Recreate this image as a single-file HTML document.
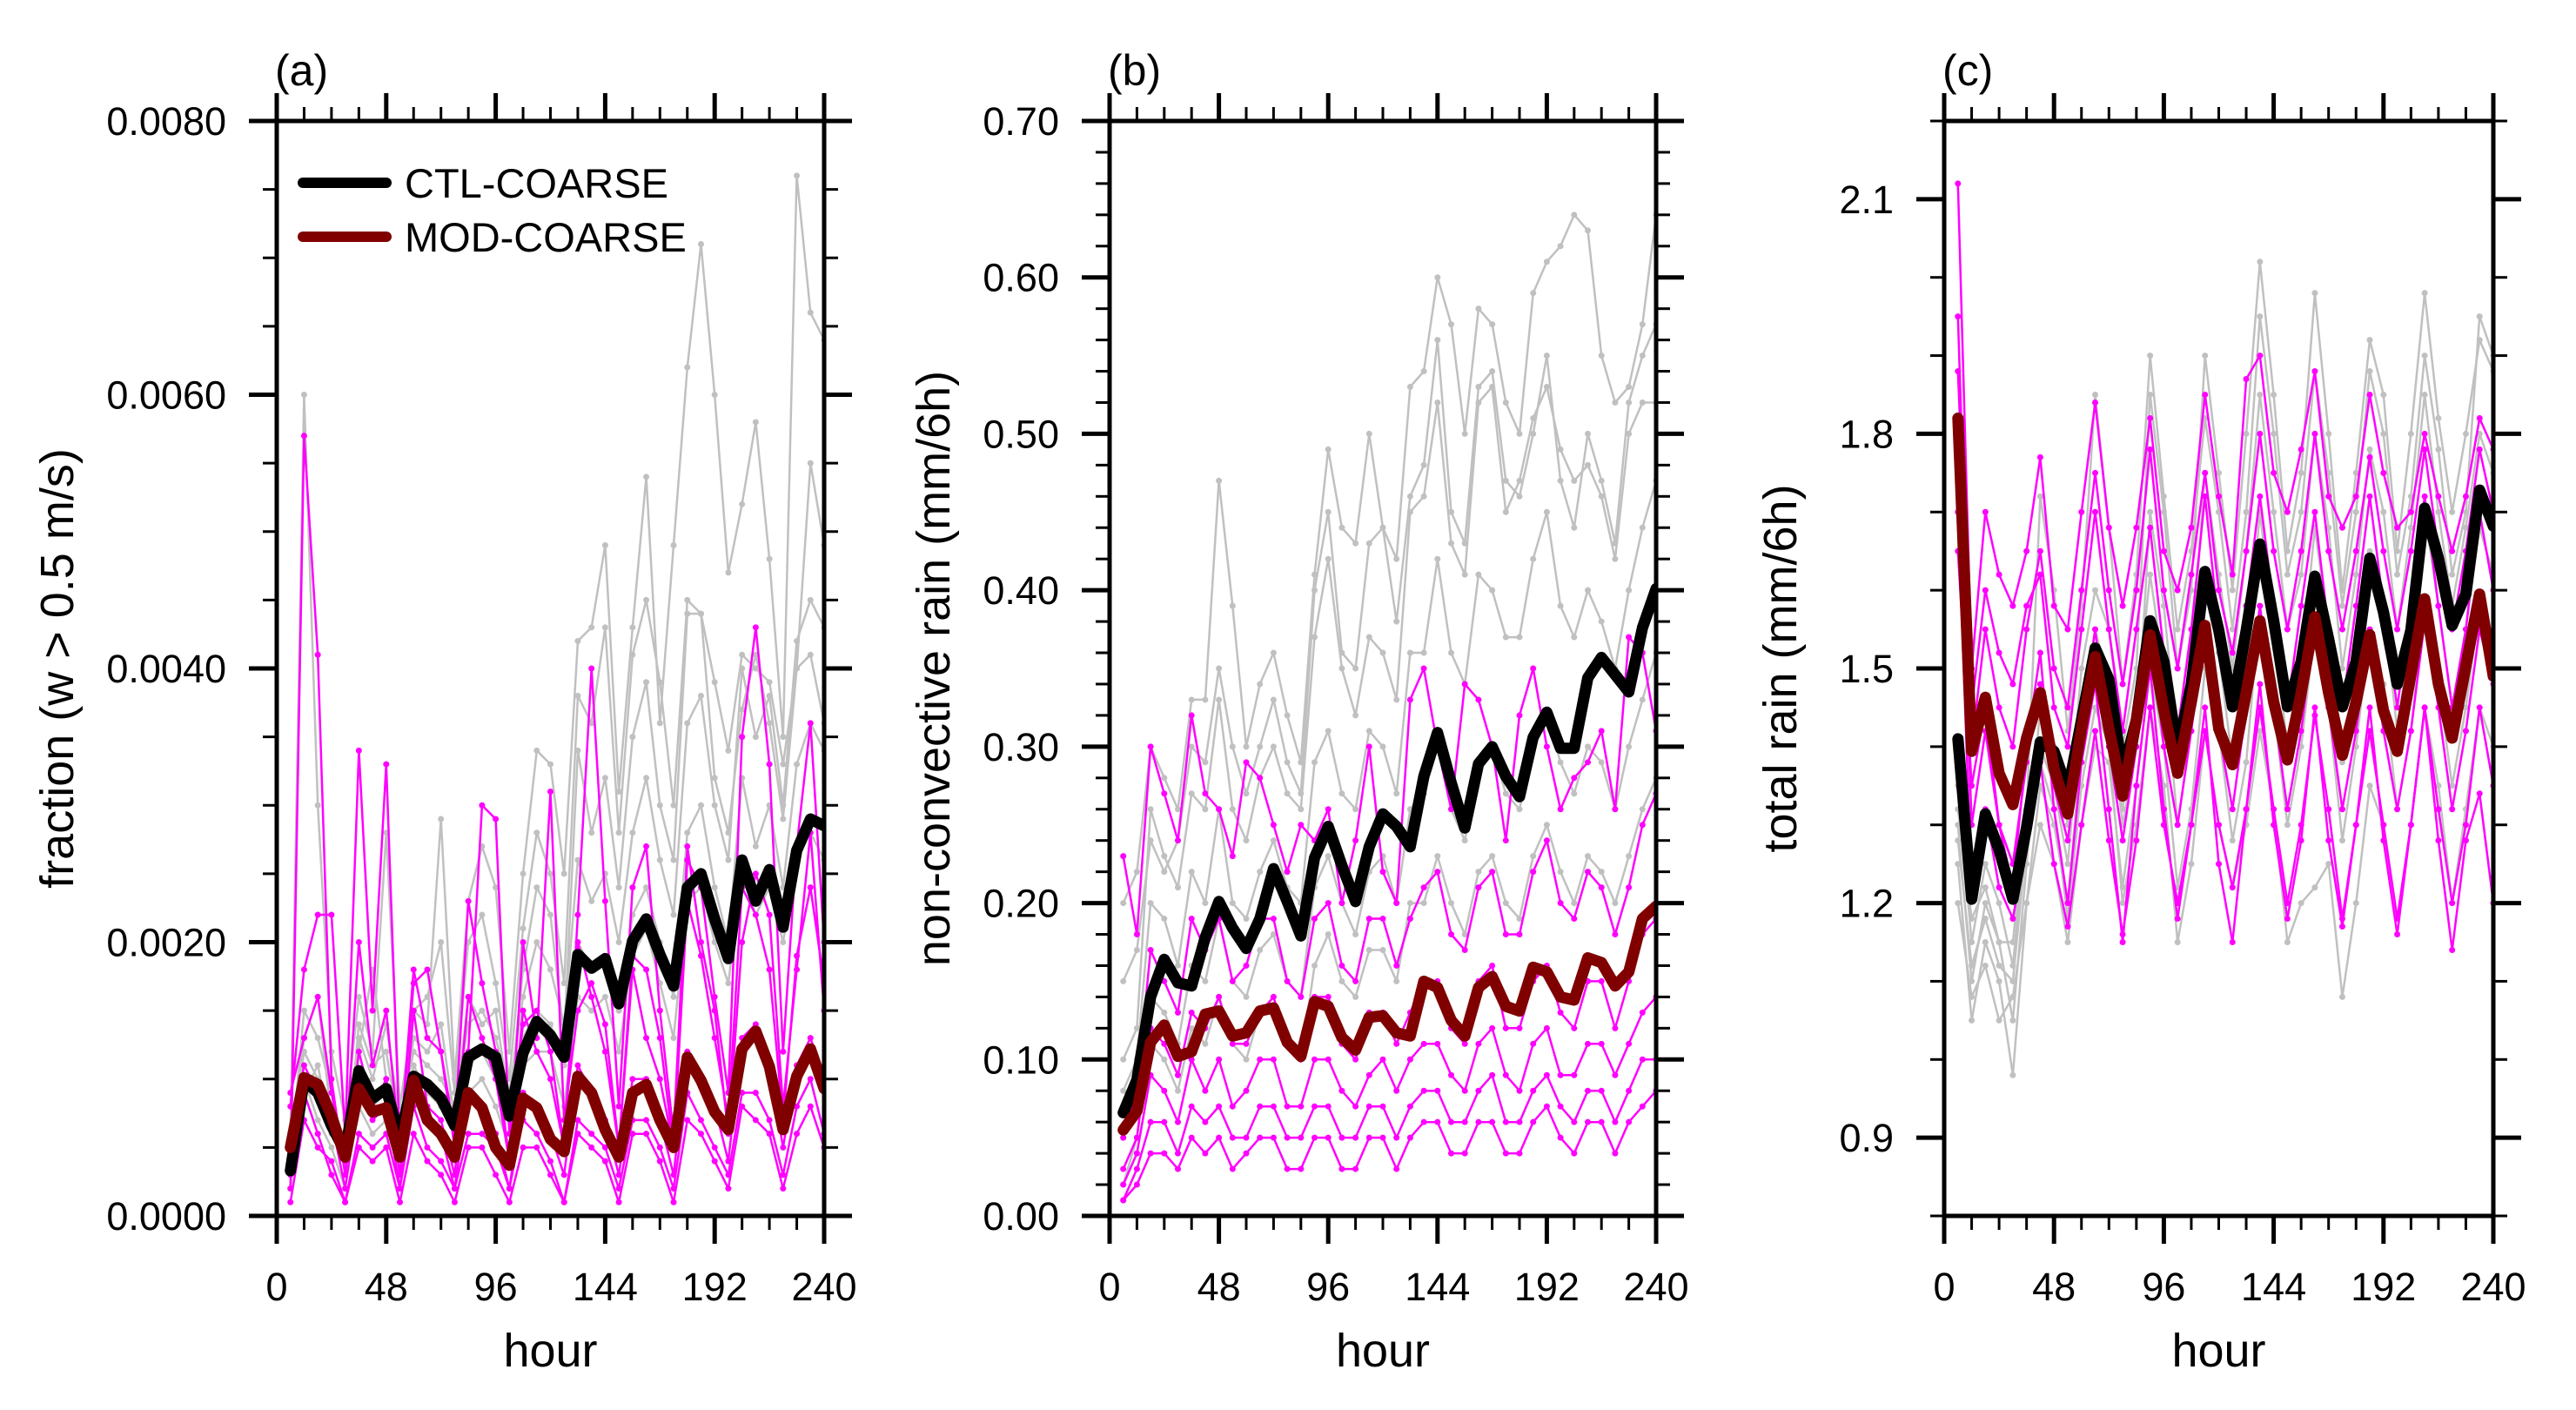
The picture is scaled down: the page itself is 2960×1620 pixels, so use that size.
<!DOCTYPE html>
<html><head><meta charset="utf-8"><style>
html,body{margin:0;padding:0;background:#fff;}
svg{display:block;font-family:"Liberation Sans",Arial,sans-serif;}
</style></head><body>
<svg id="chart" width="2960" height="1620" viewBox="0 0 2960 1620" xmlns="http://www.w3.org/2000/svg"></svg>
<script>
// ---------- shared data ----------
const hours = [6,12,18,24,30,36,42,48,54,60,66,72,78,84,90,96,102,108,114,120,126,132,138,144,150,156,162,168,174,180,186,192,198,204,210,216,222,228,234,240];
const xTickLabels = ["0","48","96","144","192","240"];

// ---------- panel (a): fraction (values in units of 0.001) ----------
const aYTicks = [0,2,4,6,8];
const aYTickLabels = ["0.0000","0.0020","0.0040","0.0060","0.0080"];
const aCtl = [0.33,0.99,0.90,0.66,0.47,1.06,0.86,0.93,0.56,1.02,0.96,0.86,0.66,1.16,1.22,1.16,0.73,1.19,1.42,1.32,1.16,1.91,1.81,1.88,1.55,2.01,2.17,1.91,1.68,2.40,2.50,2.17,1.88,2.60,2.30,2.53,2.11,2.67,2.90,2.85];
const aMod = [0.50,1.01,0.96,0.73,0.43,0.93,0.76,0.79,0.43,0.99,0.70,0.60,0.43,0.90,0.79,0.50,0.37,0.86,0.79,0.56,0.47,1.02,0.90,0.63,0.43,0.90,0.96,0.70,0.50,1.16,0.99,0.76,0.63,1.22,1.35,1.09,0.63,1.02,1.22,0.93];
const aGray1 = [0.5,1.2,1.0,0.8,0.5,1.3,1.0,1.4,0.7,1.2,1.1,1.0,0.8,1.4,1.5,1.3,0.9,1.6,2.0,1.8,1.4,2.6,2.3,2.5,2.0,2.8,3.2,2.6,2.2,3.6,3.8,3.0,2.6,4.0,3.5,3.8,3.0,4.2,4.5,4.3];
const aGray2 = [0.3,0.9,1.1,0.6,0.4,1.0,0.8,0.9,0.5,1.1,0.9,0.8,0.6,1.1,1.2,1.0,0.7,1.3,1.5,1.4,1.1,2.0,1.8,1.9,1.5,2.2,2.4,2.0,1.6,2.8,3.0,2.4,2.0,3.2,2.7,3.0,2.4,3.3,3.6,3.4];
const aGray3 = [0.6,6.0,3.0,1.2,0.7,1.6,1.2,2.8,0.8,1.5,1.4,2.9,1.0,2.3,2.7,2.4,1.2,2.5,3.4,3.3,2.5,4.2,4.3,4.9,3.1,4.3,5.4,3.6,4.9,6.2,7.1,6.0,4.7,5.2,5.8,4.8,3.5,7.6,6.6,6.4];
const aGray4 = [0.4,1.5,1.3,0.9,0.3,1.4,1.1,1.2,0.6,1.5,1.6,2.0,0.9,2.0,2.2,1.7,1.0,2.1,2.8,2.5,1.7,3.8,3.6,4.3,2.8,4.1,4.5,3.9,3.0,4.5,4.4,3.9,3.4,4.1,4.0,3.9,3.3,4.0,4.1,3.6];
const aGray5 = [0.2,1.0,0.7,0.5,0.2,0.8,0.6,0.7,0.3,0.9,0.7,0.6,0.4,0.9,1.0,0.8,0.5,1.1,1.2,1.2,0.8,1.6,1.5,1.6,1.2,1.9,2.1,1.7,1.3,2.3,2.4,2.0,1.7,2.5,2.2,2.4,2.0,2.6,2.8,2.6];
const aGray6 = [0.4,1.3,1.6,0.7,0.5,1.2,1.8,1.0,0.6,1.3,1.2,1.4,0.7,1.6,1.4,1.5,0.8,1.8,2.4,2.2,1.3,3.4,2.8,3.2,2.4,3.5,3.9,3.0,2.6,4.4,4.4,3.2,2.8,3.7,4.1,3.6,2.9,4.0,5.5,4.9];
const aMag1 = [0.2,5.7,4.1,1.0,0.3,1.2,0.8,1.0,0.3,1.5,0.8,0.7,0.3,1.2,3.0,2.9,0.6,1.4,1.5,1.2,0.5,2.2,4.0,2.3,0.8,2.4,2.7,1.5,0.6,2.6,2.4,1.6,0.9,3.5,4.3,3.3,1.2,2.7,3.6,2.0];
const aMag2 = [0.8,1.8,2.2,2.2,0.6,3.4,1.5,3.3,0.5,1.7,1.8,1.2,0.6,2.3,1.7,1.2,0.4,2.0,1.3,3.1,0.7,1.5,1.7,1.4,0.5,1.8,1.3,1.0,0.5,2.7,2.0,1.5,0.6,2.0,2.5,2.2,0.8,1.8,2.8,1.5];
const aMag3 = [0.5,1.1,0.9,0.7,0.2,0.9,0.7,0.8,0.2,1.0,0.7,0.6,0.2,0.9,0.8,0.6,0.2,0.9,0.8,0.6,0.3,1.1,0.9,0.7,0.3,1.0,1.0,0.7,0.3,1.2,1.0,0.8,0.4,1.3,1.4,1.1,0.5,1.1,1.3,1.0];
const aMag4 = [0.1,0.7,0.5,0.4,0.1,0.5,0.4,0.5,0.1,0.6,0.4,0.3,0.1,0.5,0.5,0.3,0.1,0.5,0.5,0.3,0.1,0.6,0.5,0.4,0.1,0.6,0.6,0.4,0.1,0.7,0.6,0.4,0.2,0.8,0.7,0.6,0.2,0.6,0.8,0.5];
const aMag5 = [0.9,1.3,1.6,0.9,0.4,2.0,1.1,1.5,0.5,1.8,1.3,1.2,0.5,1.6,1.3,1.0,0.4,1.5,1.2,1.0,0.5,2.0,1.6,1.2,0.5,1.9,1.8,1.3,0.5,2.3,1.9,1.3,0.7,2.4,2.2,1.8,0.7,1.9,2.4,1.7];
const aMag6 = [0.3,0.9,0.6,0.3,0.1,0.6,0.5,0.6,0.2,0.8,0.5,0.4,0.2,0.6,0.6,0.5,0.2,0.7,0.6,0.4,0.1,0.7,0.6,0.5,0.2,0.7,0.7,0.5,0.2,0.9,0.7,0.5,0.3,0.9,0.9,0.7,0.3,0.8,1.0,0.6];

// ---------- panel (b): non-convective rain ----------
const bYTicks = [0,0.1,0.2,0.3,0.4,0.5,0.6,0.7];
const bYTickLabels = ["0.00","0.10","0.20","0.30","0.40","0.50","0.60","0.70"];
const bCtl = [0.066,0.087,0.140,0.164,0.149,0.147,0.178,0.201,0.184,0.171,0.190,0.222,0.201,0.179,0.229,0.249,0.224,0.201,0.236,0.257,0.249,0.236,0.281,0.309,0.277,0.248,0.289,0.300,0.281,0.268,0.306,0.322,0.299,0.299,0.344,0.357,0.346,0.335,0.376,0.401];
const bMod = [0.055,0.067,0.111,0.122,0.102,0.105,0.129,0.131,0.115,0.117,0.131,0.133,0.111,0.102,0.137,0.134,0.114,0.106,0.127,0.128,0.117,0.115,0.150,0.146,0.125,0.115,0.146,0.153,0.134,0.131,0.159,0.156,0.140,0.138,0.165,0.162,0.147,0.156,0.190,0.198];
const bGray1 = [0.20,0.22,0.30,0.28,0.26,0.33,0.33,0.47,0.39,0.30,0.34,0.36,0.32,0.29,0.41,0.49,0.44,0.43,0.50,0.44,0.42,0.53,0.54,0.60,0.57,0.50,0.58,0.57,0.52,0.50,0.59,0.61,0.62,0.64,0.63,0.55,0.52,0.53,0.57,0.64];
const bGray2 = [0.10,0.12,0.26,0.23,0.21,0.27,0.26,0.33,0.26,0.24,0.28,0.30,0.27,0.26,0.37,0.42,0.35,0.32,0.37,0.36,0.33,0.45,0.46,0.52,0.43,0.41,0.52,0.53,0.45,0.47,0.51,0.53,0.49,0.47,0.48,0.46,0.42,0.50,0.52,0.52];
const bGray3 = [0.08,0.10,0.20,0.19,0.16,0.22,0.20,0.26,0.20,0.19,0.22,0.24,0.21,0.20,0.29,0.31,0.27,0.26,0.31,0.30,0.27,0.36,0.36,0.42,0.36,0.34,0.41,0.40,0.37,0.37,0.42,0.45,0.39,0.37,0.40,0.38,0.35,0.40,0.44,0.47];
const bGray4 = [0.05,0.07,0.14,0.13,0.11,0.16,0.15,0.19,0.15,0.14,0.17,0.18,0.15,0.14,0.21,0.23,0.20,0.18,0.22,0.23,0.20,0.26,0.27,0.30,0.26,0.24,0.29,0.30,0.27,0.26,0.30,0.32,0.29,0.27,0.30,0.29,0.26,0.30,0.33,0.36];
const bGray5 = [0.02,0.05,0.11,0.10,0.08,0.12,0.11,0.14,0.11,0.10,0.13,0.14,0.11,0.10,0.16,0.18,0.15,0.14,0.17,0.17,0.15,0.20,0.20,0.23,0.20,0.18,0.22,0.23,0.20,0.19,0.23,0.25,0.22,0.20,0.23,0.22,0.20,0.23,0.26,0.28];
const bGray6 = [0.15,0.17,0.24,0.22,0.24,0.30,0.29,0.35,0.30,0.27,0.30,0.33,0.29,0.27,0.40,0.45,0.36,0.35,0.43,0.44,0.38,0.46,0.48,0.56,0.45,0.43,0.53,0.54,0.47,0.46,0.50,0.55,0.47,0.44,0.50,0.47,0.43,0.52,0.55,0.57];
const bMag1 = [0.23,0.18,0.30,0.27,0.24,0.32,0.27,0.26,0.23,0.29,0.28,0.25,0.22,0.25,0.24,0.26,0.20,0.24,0.30,0.22,0.20,0.33,0.35,0.30,0.26,0.34,0.33,0.30,0.24,0.32,0.35,0.30,0.26,0.28,0.29,0.31,0.26,0.37,0.36,0.31];
const bMag2 = [0.05,0.08,0.17,0.15,0.13,0.19,0.17,0.19,0.15,0.16,0.19,0.19,0.15,0.14,0.19,0.20,0.16,0.15,0.19,0.19,0.16,0.19,0.21,0.22,0.18,0.17,0.21,0.22,0.18,0.18,0.22,0.24,0.20,0.19,0.22,0.21,0.18,0.21,0.25,0.27];
const bMag3 = [0.03,0.05,0.12,0.11,0.09,0.13,0.12,0.14,0.11,0.11,0.13,0.14,0.11,0.10,0.14,0.14,0.11,0.10,0.13,0.13,0.11,0.13,0.15,0.15,0.12,0.11,0.15,0.16,0.12,0.12,0.15,0.16,0.13,0.12,0.15,0.15,0.12,0.15,0.18,0.19];
const bMag4 = [0.01,0.03,0.06,0.06,0.04,0.07,0.06,0.07,0.05,0.05,0.07,0.07,0.05,0.05,0.07,0.07,0.05,0.05,0.07,0.07,0.05,0.07,0.08,0.08,0.06,0.06,0.08,0.09,0.06,0.06,0.08,0.09,0.07,0.06,0.08,0.08,0.06,0.08,0.10,0.10];
const bMag5 = [0.02,0.04,0.09,0.08,0.06,0.10,0.08,0.10,0.07,0.08,0.10,0.10,0.07,0.07,0.10,0.10,0.08,0.07,0.09,0.10,0.08,0.10,0.11,0.11,0.09,0.08,0.11,0.12,0.09,0.08,0.11,0.12,0.09,0.09,0.11,0.11,0.09,0.11,0.13,0.14];
const bMag6 = [0.01,0.02,0.04,0.04,0.03,0.05,0.04,0.05,0.03,0.04,0.05,0.05,0.03,0.03,0.05,0.05,0.03,0.03,0.05,0.05,0.03,0.05,0.06,0.06,0.04,0.04,0.06,0.06,0.04,0.04,0.06,0.07,0.05,0.04,0.06,0.06,0.04,0.06,0.07,0.08];

// ---------- panel (c): total rain ----------
const cYTicks = [0.9,1.2,1.5,1.8,2.1];
const cYTickLabels = ["0.9","1.2","1.5","1.8","2.1"];
const cCtl = [1.41,1.205,1.314,1.268,1.205,1.297,1.406,1.394,1.343,1.434,1.526,1.486,1.366,1.434,1.561,1.509,1.394,1.48,1.624,1.549,1.451,1.549,1.659,1.561,1.451,1.509,1.618,1.538,1.451,1.509,1.641,1.572,1.48,1.549,1.705,1.641,1.555,1.595,1.728,1.682];
const cMod = [1.82,1.394,1.463,1.366,1.326,1.411,1.469,1.372,1.314,1.423,1.515,1.423,1.337,1.434,1.543,1.446,1.366,1.457,1.555,1.423,1.377,1.469,1.561,1.457,1.383,1.469,1.566,1.469,1.389,1.457,1.543,1.446,1.394,1.492,1.589,1.48,1.411,1.503,1.595,1.49];
const cGray1 = [1.30,1.10,1.20,1.15,1.05,1.25,1.45,1.40,1.30,1.50,1.60,1.55,1.40,1.50,1.85,1.70,1.50,1.60,1.90,1.75,1.60,1.80,2.02,1.85,1.65,1.75,1.98,1.80,1.60,1.75,1.92,1.85,1.65,1.80,1.98,1.82,1.70,1.80,1.92,1.88];
const cGray2 = [1.25,1.05,1.15,1.10,0.98,1.20,1.35,1.30,1.20,1.40,1.50,1.45,1.30,1.40,1.70,1.58,1.40,1.50,1.75,1.62,1.50,1.65,1.85,1.70,1.55,1.62,1.80,1.68,1.50,1.62,1.78,1.70,1.55,1.68,1.85,1.70,1.58,1.68,1.80,1.75];
const cGray3 = [1.28,1.12,1.18,1.12,1.10,1.28,1.40,1.35,1.25,1.45,1.55,1.48,1.32,1.45,1.62,1.50,1.30,1.42,1.62,1.52,1.38,1.50,1.70,1.55,1.40,1.50,1.68,1.55,1.38,1.50,1.65,1.58,1.42,1.55,1.70,1.58,1.45,1.55,1.68,1.62];
const cGray4 = [1.20,1.08,1.12,1.05,1.08,1.20,1.30,1.25,1.15,1.30,1.40,1.38,1.22,1.35,1.50,1.40,1.22,1.32,1.50,1.42,1.28,1.38,1.58,1.45,1.30,1.40,1.55,1.45,1.28,1.40,1.55,1.48,1.32,1.42,1.58,1.48,1.35,1.45,1.58,1.52];
const cGray5 = [1.35,1.15,1.25,1.20,1.12,1.30,1.38,1.32,1.18,1.35,1.45,1.40,1.20,1.30,1.45,1.35,1.15,1.25,1.42,1.30,1.22,1.30,1.42,1.32,1.15,1.20,1.22,1.25,1.08,1.20,1.35,1.30,1.18,1.30,1.45,1.35,1.20,1.32,1.45,1.40];
const cGray6 = [1.32,1.18,1.22,1.15,1.15,1.32,1.72,1.60,1.42,1.58,1.85,1.68,1.48,1.62,1.90,1.72,1.55,1.65,1.82,1.70,1.55,1.70,1.95,1.80,1.62,1.70,1.88,1.75,1.58,1.70,1.88,1.80,1.62,1.72,1.90,1.78,1.62,1.70,1.95,1.90];
const cMag1 = [2.12,1.50,1.70,1.62,1.58,1.65,1.77,1.58,1.55,1.70,1.84,1.68,1.58,1.68,1.82,1.65,1.60,1.68,1.85,1.72,1.62,1.87,1.90,1.75,1.70,1.78,1.88,1.72,1.68,1.72,1.85,1.75,1.68,1.70,1.80,1.72,1.65,1.72,1.82,1.78];
const cMag2 = [1.95,1.40,1.55,1.45,1.40,1.55,1.65,1.50,1.45,1.60,1.75,1.60,1.48,1.60,1.78,1.60,1.50,1.62,1.75,1.60,1.52,1.65,1.80,1.65,1.55,1.65,1.80,1.65,1.55,1.65,1.77,1.65,1.55,1.65,1.78,1.65,1.55,1.65,1.78,1.70];
const cMag3 = [1.80,1.30,1.42,1.30,1.25,1.38,1.48,1.35,1.28,1.42,1.55,1.40,1.28,1.40,1.55,1.40,1.30,1.42,1.55,1.42,1.32,1.45,1.58,1.45,1.32,1.42,1.56,1.45,1.32,1.42,1.55,1.42,1.32,1.42,1.56,1.45,1.32,1.42,1.55,1.48];
const cMag4 = [1.70,1.22,1.32,1.22,1.18,1.28,1.38,1.25,1.17,1.30,1.42,1.28,1.16,1.28,1.45,1.30,1.20,1.30,1.42,1.30,1.22,1.32,1.45,1.32,1.20,1.30,1.44,1.32,1.18,1.30,1.42,1.30,1.18,1.30,1.45,1.32,1.20,1.30,1.45,1.35];
const cMag5 = [1.65,1.35,1.45,1.30,1.22,1.40,1.52,1.32,1.20,1.38,1.48,1.32,1.15,1.35,1.50,1.32,1.18,1.30,1.45,1.25,1.15,1.32,1.48,1.30,1.18,1.28,1.45,1.28,1.17,1.30,1.45,1.28,1.16,1.30,1.45,1.28,1.14,1.28,1.34,1.20];
const cMag6 = [1.88,1.45,1.60,1.52,1.48,1.58,1.62,1.45,1.40,1.55,1.70,1.55,1.42,1.55,1.68,1.52,1.42,1.55,1.72,1.55,1.45,1.58,1.72,1.58,1.45,1.58,1.70,1.55,1.45,1.58,1.72,1.58,1.45,1.58,1.72,1.58,1.45,1.55,1.70,1.60];

// ---------- rendering ----------
const NS = "http://www.w3.org/2000/svg";
const svg = document.getElementById("chart");
function mk(tag, attrs, parent){
  const e = document.createElementNS(NS, tag);
  for (const k in attrs) e.setAttribute(k, attrs[k]);
  (parent||svg).appendChild(e);
  return e;
}
const TOP = 139, BOT = 1397;

function panel(cfg){
  const g = mk("g", {});
  
  
  const L = cfg.left, R = cfg.right;
  const xs = h => L + (h - 0) / 240 * (R - L);
  const ys = v => BOT - (v - cfg.ymin) / (cfg.ymax - cfg.ymin) * (BOT - TOP);

  const cid = "clip-" + cfg.id;
  const defs = mk("defs", {}, g);
  const cp = mk("clipPath", {id: cid}, defs);
  mk("rect", {x: L, y: TOP, width: R - L, height: BOT - TOP}, cp);
  const plot = mk("g", {"clip-path": "url(#" + cid + ")"}, g);
  
  

  function series(vals, color, w, dots, name){
    const pts = vals.map((v,i) => xs(hours[i]).toFixed(1) + "," + ys(v).toFixed(1)).join(" ");
    const pl = mk("polyline", {points: pts, fill: "none", stroke: color, "stroke-width": w, "stroke-linejoin": "round", "stroke-linecap": "round"}, plot);
    
    
    if (dots){
      vals.forEach((v,i) => {
        const c = mk("circle", {cx: xs(hours[i]), cy: ys(v), r: 3.5, fill: color}, plot);
        
        
      });
    }
  }
  cfg.gray.forEach((s,i) => series(s, "#c0c0c0", 2.5, true, "ctl-member-" + (i+1)));
  cfg.mag.forEach((s,i) => series(s, "#ff00ff", 2.5, true, "mod-member-" + (i+1)));
  series(cfg.ctl, "#000000", 13, false, "ctl-coarse-line");
  series(cfg.mod, "#800000", 13, false, "mod-coarse-line");

  const fr = mk("rect", {x: L, y: TOP, width: R - L, height: BOT - TOP, fill: "none", stroke: "#000", "stroke-width": 5}, g);
  
  

  for (let h = 0; h <= 240; h += 12){
    const major = h % 48 === 0;
    const len = major ? 32 : 16, sw = major ? 5 : 3;
    const x = xs(h);
    const t1 = mk("line", {x1: x, y1: BOT, x2: x, y2: BOT + len, stroke: "#000", "stroke-width": sw}, g);
    
    
    const t2 = mk("line", {x1: x, y1: TOP, x2: x, y2: TOP - len, stroke: "#000", "stroke-width": sw}, g);
    
    
  }
  xTickLabels.forEach((lab,i) => {
    const t = mk("text", {x: xs(i*48), y: 1494, "text-anchor": "middle", "font-size": 45}, g);
    t.textContent = lab;
    
    
  });
  const nMinor = Math.round((cfg.ymax - cfg.ymin) / cfg.minor);
  for (let k = 0; k <= nMinor; k++){
    const v = cfg.ymin + k * cfg.minor;
    const major = cfg.yticks.some(t => Math.abs(t - v) < cfg.minor * 0.1);
    const len = major ? 32 : 16, sw = major ? 5 : 3;
    const y = ys(v);
    const t1 = mk("line", {x1: L, y1: y, x2: L - len, y2: y, stroke: "#000", "stroke-width": sw}, g);
    
    
    const t2 = mk("line", {x1: R, y1: y, x2: R + len, y2: y, stroke: "#000", "stroke-width": sw}, g);
    
    
  }
  cfg.yticks.forEach((v,i) => {
    const t = mk("text", {x: L - 58, y: ys(v) + 16, "text-anchor": "end", "font-size": 45}, g);
    t.textContent = cfg.ylabels[i];
    
    
  });
  const xt = mk("text", {x: (L + R) / 2, y: 1570, "text-anchor": "middle", "font-size": 54}, g);
  xt.textContent = "hour";
  
  
  const yt = mk("text", {x: 0, y: 0, "text-anchor": "middle", "font-size": 54, transform: "translate(" + (cfg.ytitleX + 19) + "," + ((TOP + BOT) / 2) + ") rotate(-90)"}, g);
  yt.textContent = cfg.ytitle;
  
  
  const pl = mk("text", {x: L - 2, y: 98, "font-size": 50}, g);
  pl.textContent = cfg.label;
  
  
  return g;
}

panel({id:"a", name:"panel-a-fraction", left:318, right:947, ymin:0, ymax:8, minor:0.5,
  yticks:aYTicks, ylabels:aYTickLabels, ytitle:"fraction (w > 0.5 m/s)", ytitleX:65, label:"(a)",
  ctl:aCtl, mod:aMod, gray:[aGray1,aGray2,aGray3,aGray4,aGray5,aGray6], mag:[aMag1,aMag2,aMag3,aMag4,aMag5,aMag6]});
panel({id:"b", name:"panel-b-nonconvective-rain", left:1275, right:1903, ymin:0, ymax:0.7, minor:0.02,
  yticks:bYTicks, ylabels:bYTickLabels, ytitle:"non-convective rain (mm/6h)", ytitleX:1072, label:"(b)",
  ctl:bCtl, mod:bMod, gray:[bGray1,bGray2,bGray3,bGray4,bGray5,bGray6], mag:[bMag1,bMag2,bMag3,bMag4,bMag5,bMag6]});
panel({id:"c", name:"panel-c-total-rain", left:2234, right:2865, ymin:0.8, ymax:2.2, minor:0.1,
  yticks:cYTicks, ylabels:cYTickLabels, ytitle:"total rain (mm/6h)", ytitleX:2045, label:"(c)",
  ctl:cCtl, mod:cMod, gray:[cGray1,cGray2,cGray3,cGray4,cGray5,cGray6], mag:[cMag1,cMag2,cMag3,cMag4,cMag5,cMag6]});

const lg = mk("g", {});


const l1 = mk("line", {x1: 348, y1: 210, x2: 444, y2: 210, stroke: "#000", "stroke-width": 12, "stroke-linecap": "round"}, lg);


const t1 = mk("text", {x: 465, y: 227, "font-size": 47}, lg);
t1.textContent = "CTL-COARSE";


const l2 = mk("line", {x1: 348, y1: 272, x2: 444, y2: 272, stroke: "#800000", "stroke-width": 12, "stroke-linecap": "round"}, lg);


const t2 = mk("text", {x: 465, y: 289, "font-size": 47}, lg);
t2.textContent = "MOD-COARSE";


</script>
</body></html>
